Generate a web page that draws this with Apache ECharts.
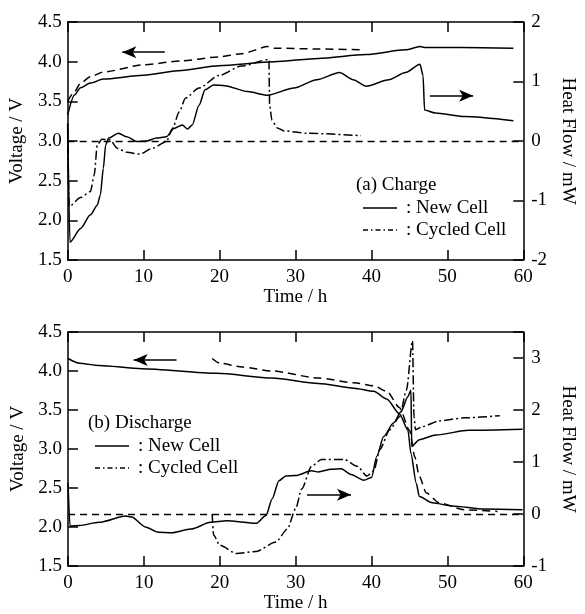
<!DOCTYPE html>
<html>
<head>
<meta charset="utf-8">
<script src="https://cdn.jsdelivr.net/npm/echarts@6/dist/echarts.min.js"></script>
<style>
  html, body { margin: 0; background: #fff; }
  #chart { width: 585px; height: 614px; }
</style>
</head>
<body>
<div id="chart"></div>
<script>
// (a) charge: [time h, value]
var chargeNewVolt = [[0,3.33],[0.9,3.58],[1.7,3.67],[3,3.73],[4.7,3.78],[10,3.83],[15,3.89],[19.9,3.95],[27.2,4.0],[33,4.04],[39.3,4.09],[44.5,4.15],[46.4,4.19],[47,4.18],[52,4.18],[58.7,4.17]];
var chargeCycledVolt = [[0,3.5],[0.9,3.62],[1.7,3.73],[3,3.81],[4.7,3.87],[10,3.96],[15,4.01],[19.9,4.06],[22.9,4.1],[26.4,4.19],[27.2,4.17],[33,4.16],[38.6,4.15]];
var chargeNewHeat = [[0,0.3],[0.3,-1.7],[1.7,-1.47],[3,-1.24],[3.9,-1.08],[4.3,-0.91],[4.7,-0.46],[5.0,-0.07],[5.4,0.05],[6.7,0.13],[7.8,0.07],[9.1,-0.01],[10.4,0.0],[11.7,0.05],[13,0.07],[14,0.21],[15.1,0.27],[15.8,0.2],[16.4,0.27],[17.3,0.6],[18.1,0.86],[19.2,0.94],[20.7,0.93],[23.7,0.83],[26.3,0.77],[29.8,0.89],[32.8,1.03],[35.8,1.15],[37.6,1.03],[39.3,0.92],[42.3,1.03],[44.5,1.15],[46.4,1.29],[46.8,1.1],[47,0.52],[48.4,0.47],[52.2,0.41],[58.7,0.34]];
var chargeCycledHeat = [[0,0.2],[0.2,-1.1],[1.7,-0.95],[3,-0.85],[3.5,-0.57],[3.9,-0.07],[4.5,0.03],[5.6,0.02],[6.5,-0.12],[7.8,-0.19],[9.5,-0.22],[11.2,-0.12],[13,-0.01],[13.8,0.21],[14.7,0.49],[15.5,0.72],[17.3,0.89],[19.9,1.1],[22.9,1.26],[26.5,1.37],[26.6,0.6],[26.9,0.35],[27.6,0.22],[28.5,0.17],[31.5,0.13],[38.6,0.09]];

// (b) discharge
var dischNewVolt = [[0,4.16],[1.5,4.1],[4.1,4.07],[9.7,4.03],[19.6,3.97],[26.9,3.91],[33,3.84],[37.7,3.78],[40.3,3.74],[42,3.64],[43.7,3.45],[44.8,3.24],[45.2,2.94],[45.9,2.56],[46.3,2.39],[48,2.31],[50.6,2.27],[54.9,2.23],[59.9,2.22]];
var dischCycledVolt = [[19,4.16],[20,4.1],[23,4.05],[26.9,4.0],[33,3.91],[37.7,3.85],[40.3,3.81],[42,3.74],[43.7,3.53],[45,3.24],[45.7,2.9],[46.3,2.65],[47.2,2.44],[48.9,2.31],[52.3,2.22],[56.6,2.2]];
var dischNewHeat = [[0,0.6],[0.26,-0.23],[1.5,-0.22],[4.1,-0.16],[7.6,-0.04],[8.4,-0.06],[10.2,-0.25],[11.9,-0.35],[13.6,-0.36],[16.2,-0.29],[18.8,-0.16],[20.9,-0.13],[24.8,-0.18],[26.1,-0.03],[26.9,0.29],[27.8,0.64],[28.7,0.73],[30,0.74],[32.1,0.83],[33,0.81],[34.7,0.86],[36,0.87],[37.3,0.76],[39,0.65],[40,0.7],[40.7,1.11],[41.6,1.49],[42.9,1.75],[43.9,1.97],[44.8,2.26],[45.2,2.38],[45.3,1.3],[46.3,1.43],[48.5,1.52],[52.8,1.61],[59.9,1.63]];
var dischCycledHeat = [[19,0.0],[19.2,-0.41],[20,-0.6],[22.2,-0.76],[24.8,-0.72],[27.4,-0.54],[28.9,-0.29],[30,0.1],[30.8,0.48],[32.1,0.92],[33.4,1.05],[36.4,1.05],[38.1,0.92],[39.4,0.73],[40.3,0.83],[41.1,1.24],[42.4,1.62],[43.7,1.87],[44.6,2.38],[45.4,3.33],[45.6,1.87],[45.8,1.62],[46.7,1.68],[48.9,1.79],[52.3,1.85],[56.9,1.89]];

var FONT = '"Liberation Serif", "DejaVu Serif", serif';
var black = '#000';

function axisLine() {
  return { show: true, onZero: false, lineStyle: { color: black, width: 1.5 } };
}
function axisTick() {
  return { show: true, inside: true, length: 10, lineStyle: { color: black, width: 1.5 } };
}

function xAxes(grid) {
  return [
    { gridIndex: grid, type: 'value', min: 0, max: 60, interval: 10, position: 'bottom',
      name: 'Time / h', nameLocation: 'middle', nameGap: 28,
      nameTextStyle: { fontFamily: FONT, fontSize: 19, color: black },
      axisLine: axisLine(), axisTick: axisTick(), splitLine: { show: false },
      axisLabel: { fontFamily: FONT, fontSize: 19, color: black, margin: 8 } },
    { gridIndex: grid, type: 'value', min: 0, max: 60, interval: 10, position: 'top',
      axisLine: axisLine(), axisTick: axisTick(), splitLine: { show: false }, axisLabel: { show: false } }
  ];
}

function yAxis(grid, pos, min, max, interval, name, fmt) {
  return {
    gridIndex: grid, type: 'value', position: pos, min: min, max: max, interval: interval,
    name: name, nameLocation: 'middle', nameGap: pos === 'left' ? 34 : 33,
    nameRotate: pos === 'left' ? 90 : -90,
    nameTextStyle: { fontFamily: FONT, fontSize: 19, color: black },
    axisLine: axisLine(), axisTick: axisTick(),
    splitLine: { show: false },
    axisLabel: { fontFamily: FONT, fontSize: 19, color: black, margin: pos === 'left' ? 6 : 8, formatter: fmt }
  };
}

var voltFmt = function (v) { return v.toFixed(1); };
var heatFmt = function (v) { return v > 3.2 ? '' : String(v); };

function arrow(from, to) {
  return {
    silent: true, symbol: ['none', 'arrow'], symbolSize: [9, 14],
    label: { show: false },
    lineStyle: { color: black, width: 1.5, type: 'solid' },
    data: [[{ coord: from }, { coord: to }]]
  };
}
function zeroLine() {
  return {
    silent: true, symbol: 'none', label: { show: false },
    lineStyle: { color: black, width: 1.3, type: [7, 5] },
    data: [{ yAxis: 0 }]
  };
}

function line(data, xi, yi, dash, extra) {
  var s = {
    type: 'line', data: data, xAxisIndex: xi, yAxisIndex: yi,
    showSymbol: false, smooth: 0.25, smoothMonotone: 'x', silent: true,
    lineStyle: { color: black, width: 1.5, type: dash }
  };
  if (extra) s.markLine = extra;
  return s;
}

var dashV = [8, 5];
var dashDot = [9, 3, 2, 3];

function legendGraphics(x, y, title) {
  var f = '19px ' + FONT;
  return [
    { type: 'text', x: x, y: y, style: { text: title, font: f, fill: black, verticalAlign: 'middle' } },
    { type: 'line', shape: { x1: x + 7, y1: y + 23, x2: x + 41, y2: y + 23 }, style: { stroke: black, lineWidth: 1.3 } },
    { type: 'text', x: x + 50, y: y + 23, style: { text: ': New Cell', font: f, fill: black, verticalAlign: 'middle' } },
    { type: 'line', shape: { x1: x + 7, y1: y + 45, x2: x + 41, y2: y + 45 }, style: { stroke: black, lineWidth: 1.3, lineDash: [5, 3, 1.5, 3] } },
    { type: 'text', x: x + 50, y: y + 45, style: { text: ': Cycled Cell', font: f, fill: black, verticalAlign: 'middle' } }
  ];
}

var chart = echarts.init(document.getElementById('chart'));
var option = {
  backgroundColor: '#fff',
  animation: false,
  grid: [
    { left: 67, right: 54, top: 22, height: 238 },
    { left: 68, right: 52, top: 332, height: 237 }
  ],
  xAxis: xAxes(0).concat(xAxes(1)),
  yAxis: [
    yAxis(0, 'left', 1.5, 4.5, 0.5, 'Voltage / V', voltFmt),
    yAxis(0, 'right', -2, 2, 1, 'Heat Flow / mW', heatFmt),
    yAxis(1, 'left', 1.5, 4.5, 0.5, 'Voltage / V', voltFmt),
    yAxis(1, 'right', -1, 3.5, 1, 'Heat Flow / mW', heatFmt)
  ],
  series: [
    line(chargeNewVolt, 0, 0, 'solid', arrow([12.8, 4.12], [7.2, 4.12])),
    line(chargeCycledVolt, 0, 0, dashV),
    line(chargeNewHeat, 0, 1, 'solid', zeroLine()),
    line(chargeCycledHeat, 0, 1, dashDot, arrow([47.7, 0.76], [53.4, 0.76])),
    line(dischNewVolt, 2, 2, 'solid', arrow([14.3, 4.14], [8.65, 4.14])),
    line(dischCycledVolt, 2, 2, dashV),
    line(dischNewHeat, 2, 3, 'solid', zeroLine()),
    line(dischCycledHeat, 2, 3, dashDot, arrow([31.5, 0.37], [37.3, 0.37]))
  ],
  graphic: legendGraphics(356, 185, '(a) Charge').concat(legendGraphics(88, 423, '(b) Discharge'))
};
chart.setOption(option);
</script>
</body>
</html>
